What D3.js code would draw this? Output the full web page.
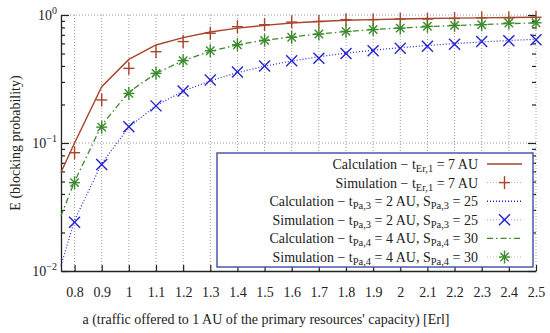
<!DOCTYPE html>
<html>
<head>
<meta charset="utf-8">
<script src="https://cdn.jsdelivr.net/npm/d3@7"></script>
<style>
  body { margin: 0; background: #fff; }
  svg { font-family: "Liberation Serif", "DejaVu Serif", serif; }
</style>
</head>
<body>
<div id="chart"></div>
<script>
const x_calc = [0.75, 0.8, 0.9, 1.0, 1.1, 1.2, 1.3, 1.4, 1.5, 1.6, 1.7, 1.8, 1.9, 2.0, 2.1, 2.2, 2.3, 2.4, 2.5];
const x_sim = [0.8, 0.9, 1.0, 1.1, 1.2, 1.3, 1.4, 1.5, 1.6, 1.7, 1.8, 1.9, 2.0, 2.1, 2.2, 2.3, 2.4, 2.5];

const er1_calc = [0.059, 0.10, 0.275, 0.45, 0.583, 0.665, 0.736, 0.79, 0.83, 0.866, 0.89, 0.91, 0.92, 0.93, 0.94, 0.945, 0.95, 0.955, 0.96];
const er1_sim = [0.084, 0.217, 0.383, 0.517, 0.62, 0.72, 0.81, 0.84, 0.88, 0.89, 0.92, 0.92, 0.93, 0.93, 0.94, 0.95, 0.95, 0.96];

const pa3_calc = [0.011, 0.025, 0.069, 0.133, 0.196, 0.254, 0.306, 0.355, 0.398, 0.437, 0.472, 0.503, 0.531, 0.556, 0.578, 0.598, 0.616, 0.632, 0.646];
const pa3_sim = [0.024, 0.068, 0.134, 0.195, 0.255, 0.31, 0.359, 0.40, 0.44, 0.46, 0.50, 0.526, 0.55, 0.57, 0.59, 0.62, 0.63, 0.64];

const pa4_calc = [0.027, 0.05, 0.138, 0.25, 0.35, 0.44, 0.52, 0.585, 0.635, 0.675, 0.71, 0.742, 0.77, 0.79, 0.81, 0.827, 0.842, 0.856, 0.868];
const pa4_sim = [0.049, 0.133, 0.244, 0.35, 0.44, 0.526, 0.586, 0.634, 0.67, 0.71, 0.745, 0.77, 0.79, 0.816, 0.83, 0.84, 0.866, 0.87];

const x_ticks = [0.8, 0.9, 1, 1.1, 1.2, 1.3, 1.4, 1.5, 1.6, 1.7, 1.8, 1.9, 2, 2.1, 2.2, 2.3, 2.4, 2.5];
const y_major = [0.01, 0.1, 1];
const y_major_exp = ['−2', '−1', '0'];
const y_minor = [0.02, 0.03, 0.04, 0.05, 0.06, 0.07, 0.08, 0.09, 0.2, 0.3, 0.4, 0.5, 0.6, 0.7, 0.8, 0.9];

const legend_rows = [
  {kind: 'calc', label: 'Calculation − t', sub1: 'Er,1', rest: ' = 7 AU', sub2: null, tail: ''},
  {kind: 'sim', label: 'Simulation − t', sub1: 'Er,1', rest: ' = 7 AU', sub2: null, tail: ''},
  {kind: 'calc', label: 'Calculation − t', sub1: 'Pa,3', rest: ' = 2 AU, S', sub2: 'Pa,3', tail: ' = 25'},
  {kind: 'sim', label: 'Simulation − t', sub1: 'Pa,3', rest: ' = 2 AU, S', sub2: 'Pa,3', tail: ' = 25'},
  {kind: 'calc', label: 'Calculation − t', sub1: 'Pa,4', rest: ' = 4 AU, S', sub2: 'Pa,4', tail: ' = 30'},
  {kind: 'sim', label: 'Simulation − t', sub1: 'Pa,4', rest: ' = 4 AU, S', sub2: 'Pa,4', tail: ' = 30'}
];

const red = '#a8442c';
const blue = '#2424d0';
const green = '#3c8a2c';
const grid_color = '#9a9a9a';

const width = 550, height = 333;
const x = d3.scaleLinear().domain([0.75, 2.5]).range([61, 536]);
const y = d3.scaleLog().domain([0.01, 1]).range([271, 15]);

const svg = d3.select('#chart').append('svg')
  .attr('width', width)
  .attr('height', height);

// grid
svg.append('g').selectAll('line')
  .data(x_ticks)
  .enter().append('line')
    .attr('x1', (d) => x(d)).attr('x2', (d) => x(d))
    .attr('y1', y.range()[0]).attr('y2', y.range()[1])
    .attr('stroke', grid_color).attr('stroke-width', 1)
    .attr('stroke-dasharray', '1,2');
svg.append('g').selectAll('line')
  .data([0.1, 1])
  .enter().append('line')
    .attr('x1', x.range()[0]).attr('x2', x.range()[1])
    .attr('y1', (d) => y(d)).attr('y2', (d) => y(d))
    .attr('stroke', grid_color).attr('stroke-width', 1)
    .attr('stroke-dasharray', '1,2');

// axes
function style_axis(g) {
  g.select('.domain').attr('stroke', '#222').attr('stroke-width', 1.3);
  g.selectAll('.tick line').attr('stroke', '#222').attr('stroke-width', 1.2);
  g.selectAll('text').attr('font-size', 14).attr('fill', '#222')
    .attr('font-family', '"Liberation Serif", serif');
}

const x_ax = svg.append('g')
  .attr('transform', 'translate(0,' + y.range()[0] + ')')
  .call(d3.axisBottom(x).tickValues(x_ticks).tickSize(-6).tickSizeOuter(0).tickPadding(16)
    .tickFormat((d) => d3.format('')(+d.toFixed(1))));
style_axis(x_ax);

const y_ax_major = svg.append('g')
  .attr('transform', 'translate(' + x.range()[0] + ',0)')
  .call(d3.axisLeft(y).tickValues(y_major).tickSize(-8).tickSizeOuter(0).tickFormat(''));
style_axis(y_ax_major);
const y_ax_minor = svg.append('g')
  .attr('transform', 'translate(' + x.range()[0] + ',0)')
  .call(d3.axisLeft(y).tickValues(y_minor).tickSize(-4).tickFormat(''));
y_ax_minor.select('.domain').remove();
style_axis(y_ax_minor);

const y_r_major = svg.append('g')
  .attr('transform', 'translate(' + x.range()[1] + ',0)')
  .call(d3.axisRight(y).tickValues(y_major).tickSize(-8).tickFormat(''));
y_r_major.select('.domain').remove();
style_axis(y_r_major);
const y_r_minor = svg.append('g')
  .attr('transform', 'translate(' + x.range()[1] + ',0)')
  .call(d3.axisRight(y).tickValues(y_minor).tickSize(-4).tickFormat(''));
y_r_minor.select('.domain').remove();
style_axis(y_r_minor);

// y tick labels 10^n
const ylab = svg.append('g').selectAll('text')
  .data(y_major)
  .enter().append('text')
    .attr('x', x.range()[0] - 4)
    .attr('y', (d) => y(d) + 5)
    .attr('text-anchor', 'end')
    .attr('font-size', 14)
    .attr('fill', '#222');
ylab.append('tspan').text('10');
ylab.append('tspan').attr('dy', -6).attr('font-size', 10)
  .text((d, i) => y_major_exp[i]);

// axis labels
svg.append('text')
  .attr('x', 266).attr('y', 324)
  .attr('text-anchor', 'middle')
  .attr('font-size', 14).attr('fill', '#222')
  .text("a (traffic offered to 1 AU of the primary resources' capacity) [Erl]");
svg.append('text')
  .attr('transform', 'translate(20,143) rotate(-90)')
  .attr('text-anchor', 'middle')
  .attr('font-size', 14).attr('fill', '#222')
  .text('E (blocking probability)');

// lines
const line_gen = d3.line()
  .x((d) => x(d[0]))
  .y((d) => y(d[1]));

function draw_calc(vals, color, dash, w) {
  svg.append('path')
    .datum(x_calc.map((v, i) => [v, vals[i]]))
    .attr('d', line_gen)
    .attr('fill', 'none')
    .attr('stroke', color)
    .attr('stroke-width', w)
    .attr('stroke-dasharray', dash);
}

function marker(g, kind, color) {
  const s = 5.5;
  if (kind == 'plus' || kind == 'star') {
    g.append('line').attr('x1', -s).attr('x2', s).attr('y1', 0).attr('y2', 0);
    g.append('line').attr('x1', 0).attr('x2', 0).attr('y1', -s - 1).attr('y2', s + 1);
  }
  if (kind == 'cross' || kind == 'star') {
    const c = kind == 'star' ? 4.2 : 5.5;
    g.append('line').attr('x1', -c).attr('x2', c).attr('y1', -c).attr('y2', c);
    g.append('line').attr('x1', -c).attr('x2', c).attr('y1', c).attr('y2', -c);
  }
  g.selectAll('line').attr('stroke', color).attr('stroke-width', 1.4);
}

function draw_sim(vals, kind, color) {
  svg.append('g').selectAll('g')
    .data(x_sim.map((v, i) => [v, vals[i]]))
    .enter().append('g')
      .attr('transform', (d) => 'translate(' + x(d[0]) + ',' + y(d[1]) + ')')
      .each(function() { marker(d3.select(this), kind, color); });
}

draw_calc(er1_calc, red, null, 1.4);
draw_calc(pa3_calc, blue, '1,2', 1.2);
draw_calc(pa4_calc, green, '6,3,1.5,3', 1.3);
draw_sim(er1_sim, 'plus', red);
draw_sim(pa3_sim, 'cross', blue);
draw_sim(pa4_sim, 'star', green);

// legend
const leg = svg.append('g');
leg.append('rect')
  .attr('x', 217).attr('y', 153)
  .attr('width', 316).attr('height', 114)
  .attr('fill', '#fff')
  .attr('stroke', '#4a58ac')
  .attr('stroke-width', 1.5);

const leg_colors = [red, red, blue, blue, green, green];
const leg_dash = [null, '1,2', '1,2', '1,2', '6,3,1.5,3', '1,2'];
const leg_marker = [null, 'plus', null, 'cross', null, 'star'];

legend_rows.forEach((r, i) => {
  const yy = 164 + i * 18.6;
  const t = leg.append('text')
    .attr('x', 478).attr('y', yy + 5)
    .attr('text-anchor', 'end')
    .attr('font-size', 14).attr('fill', '#222');
  t.append('tspan').text(r.label);
  t.append('tspan').attr('font-size', 10.5).attr('dy', 3).text(r.sub1);
  t.append('tspan').attr('dy', -3).text(r.rest);
  if (r.sub2) {
    t.append('tspan').attr('font-size', 10.5).attr('dy', 3).text(r.sub2);
    t.append('tspan').attr('dy', -3).text(r.tail);
  }
  leg.append('line')
    .attr('x1', 487).attr('x2', 522)
    .attr('y1', yy).attr('y2', yy)
    .attr('stroke', leg_colors[i])
    .attr('stroke-width', r.kind == 'calc' ? 1.4 : 0.8)
    .attr('stroke-dasharray', leg_dash[i])
    .attr('opacity', r.kind == 'calc' ? 1 : 0.6);
  if (leg_marker[i]) {
    const g = leg.append('g').attr('transform', 'translate(504.5,' + yy + ')');
    marker(g, leg_marker[i], leg_colors[i]);
  }
});
</script>
</body>
</html>
